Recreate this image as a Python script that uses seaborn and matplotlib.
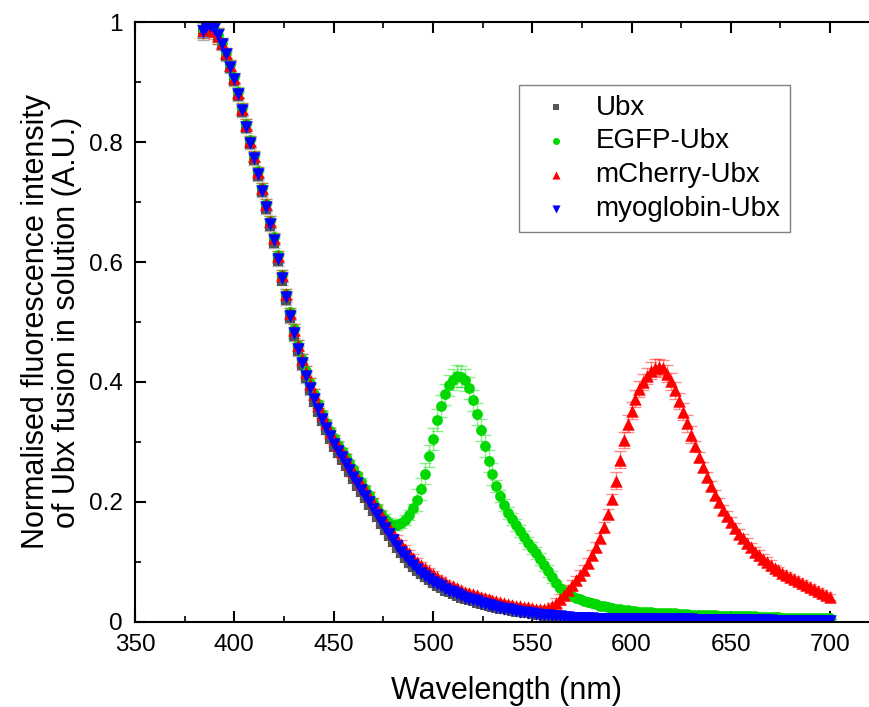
import matplotlib
matplotlib.use("Agg")
import matplotlib.pyplot as plt
import numpy as np
import pandas as pd
import seaborn as sns
from matplotlib.ticker import MultipleLocator, FixedLocator, FixedFormatter

# ---------------- data ----------------
wavelength = list(range(384, 702, 2))

ubx = [0.983, 0.990, 0.992, 0.987, 0.976, 0.962, 0.944, 0.923, 0.902, 0.877,
       0.850, 0.823, 0.796, 0.770, 0.743, 0.716, 0.688, 0.660, 0.632, 0.601,
       0.569, 0.537, 0.506, 0.477, 0.451, 0.428, 0.406, 0.386, 0.367, 0.350,
       0.334, 0.319, 0.305, 0.292, 0.281, 0.270, 0.259, 0.249, 0.238, 0.227,
       0.216, 0.206, 0.195, 0.184, 0.174, 0.163, 0.153, 0.143, 0.133, 0.123,
       0.114, 0.106, 0.098, 0.091, 0.085, 0.079, 0.074, 0.069, 0.064, 0.060,
       0.056, 0.052, 0.049, 0.046, 0.043, 0.040, 0.038, 0.036, 0.034, 0.032,
       0.030, 0.028, 0.026, 0.025, 0.023, 0.022, 0.021, 0.019, 0.018, 0.017,
       0.016, 0.015, 0.014, 0.013, 0.012, 0.011, 0.010, 0.010, 0.009, 0.008,
       0.008, 0.007, 0.007, 0.006, 0.006, 0.006, 0.005, 0.005, 0.005, 0.004,
       0.004, 0.004, 0.004, 0.004, 0.004, 0.004, 0.004, 0.004, 0.004, 0.003,
       0.003, 0.003, 0.003, 0.003, 0.003, 0.003, 0.003, 0.003, 0.003, 0.003,
       0.003, 0.003, 0.003, 0.003, 0.003, 0.003, 0.003, 0.003, 0.003, 0.002,
       0.002, 0.002, 0.002, 0.002, 0.002, 0.002, 0.002, 0.002, 0.002, 0.002,
       0.002, 0.002, 0.002, 0.002, 0.002, 0.002, 0.002, 0.002, 0.002, 0.002,
       0.002, 0.002, 0.002, 0.002, 0.002, 0.002, 0.002, 0.002, 0.002]

egfp_ubx = [0.986, 0.991, 0.994, 0.989, 0.979, 0.966, 0.949, 0.929, 0.908, 0.884,
            0.857, 0.830, 0.803, 0.777, 0.751, 0.724, 0.697, 0.669, 0.641, 0.611,
            0.579, 0.547, 0.516, 0.488, 0.462, 0.439, 0.418, 0.398, 0.380, 0.363,
            0.347, 0.332, 0.318, 0.306, 0.295, 0.284, 0.274, 0.264, 0.254, 0.244,
            0.233, 0.222, 0.211, 0.200, 0.189, 0.179, 0.171, 0.165, 0.161, 0.161,
            0.164, 0.170, 0.178, 0.189, 0.203, 0.221, 0.247, 0.276, 0.305, 0.336,
            0.360, 0.379, 0.394, 0.404, 0.410, 0.409, 0.403, 0.390, 0.369, 0.346,
            0.320, 0.293, 0.268, 0.246, 0.226, 0.209, 0.194, 0.181, 0.171, 0.161,
            0.152, 0.142, 0.132, 0.123, 0.114, 0.104, 0.094, 0.084, 0.074, 0.064,
            0.057, 0.051, 0.047, 0.043, 0.040, 0.038, 0.035, 0.033, 0.031, 0.029,
            0.027, 0.026, 0.024, 0.023, 0.022, 0.021, 0.020, 0.019, 0.018, 0.018,
            0.017, 0.017, 0.016, 0.016, 0.015, 0.015, 0.015, 0.014, 0.014, 0.014,
            0.013, 0.013, 0.013, 0.012, 0.012, 0.012, 0.011, 0.011, 0.011, 0.011,
            0.010, 0.010, 0.010, 0.010, 0.010, 0.009, 0.009, 0.009, 0.009, 0.009,
            0.008, 0.008, 0.008, 0.008, 0.008, 0.008, 0.007, 0.007, 0.007, 0.007,
            0.007, 0.007, 0.007, 0.007, 0.006, 0.006, 0.006, 0.006, 0.006]

mcherry_ubx = [0.987, 0.994, 0.992, 0.986, 0.977, 0.965, 0.948, 0.928, 0.907, 0.882,
               0.856, 0.829, 0.802, 0.776, 0.750, 0.723, 0.696, 0.668, 0.640, 0.610,
               0.578, 0.546, 0.515, 0.487, 0.461, 0.438, 0.417, 0.397, 0.379, 0.362,
               0.346, 0.331, 0.317, 0.305, 0.294, 0.283, 0.273, 0.263, 0.252, 0.242,
               0.231, 0.221, 0.210, 0.200, 0.189, 0.179, 0.168, 0.158, 0.148, 0.138,
               0.130, 0.122, 0.114, 0.107, 0.100, 0.094, 0.089, 0.084, 0.079, 0.074,
               0.070, 0.066, 0.062, 0.059, 0.056, 0.053, 0.050, 0.048, 0.046, 0.044,
               0.042, 0.040, 0.038, 0.036, 0.034, 0.033, 0.031, 0.030, 0.028, 0.027,
               0.026, 0.025, 0.024, 0.023, 0.022, 0.021, 0.021, 0.023, 0.027, 0.032,
               0.038, 0.045, 0.053, 0.061, 0.069, 0.078, 0.087, 0.098, 0.111, 0.125,
               0.140, 0.158, 0.180, 0.205, 0.235, 0.270, 0.303, 0.330, 0.352, 0.372,
               0.388, 0.400, 0.410, 0.419, 0.424, 0.425, 0.423, 0.414, 0.401, 0.386,
               0.368, 0.350, 0.331, 0.312, 0.293, 0.275, 0.258, 0.242, 0.227, 0.212,
               0.199, 0.187, 0.176, 0.166, 0.156, 0.147, 0.139, 0.131, 0.124, 0.117,
               0.111, 0.105, 0.100, 0.095, 0.090, 0.086, 0.082, 0.078, 0.075, 0.071,
               0.068, 0.064, 0.061, 0.058, 0.055, 0.051, 0.048, 0.044, 0.041]

myoglobin_ubx = [0.985, 0.992, 0.993, 0.988, 0.978, 0.964, 0.947, 0.926, 0.905, 0.880,
                 0.853, 0.826, 0.799, 0.773, 0.746, 0.719, 0.692, 0.664, 0.636, 0.605,
                 0.573, 0.541, 0.510, 0.481, 0.455, 0.432, 0.410, 0.390, 0.371, 0.354,
                 0.338, 0.323, 0.309, 0.296, 0.285, 0.274, 0.263, 0.253, 0.242, 0.231,
                 0.220, 0.210, 0.199, 0.188, 0.178, 0.167, 0.157, 0.146, 0.136, 0.126,
                 0.117, 0.109, 0.101, 0.094, 0.088, 0.082, 0.077, 0.072, 0.067, 0.063,
                 0.059, 0.055, 0.052, 0.049, 0.046, 0.043, 0.040, 0.038, 0.036, 0.034,
                 0.032, 0.030, 0.028, 0.026, 0.025, 0.023, 0.022, 0.021, 0.019, 0.018,
                 0.017, 0.016, 0.015, 0.014, 0.013, 0.012, 0.011, 0.011, 0.010, 0.009,
                 0.009, 0.008, 0.008, 0.007, 0.007, 0.007, 0.006, 0.006, 0.006, 0.005,
                 0.005, 0.005, 0.005, 0.005, 0.005, 0.004, 0.004, 0.004, 0.004, 0.004,
                 0.004, 0.004, 0.004, 0.004, 0.004, 0.004, 0.004, 0.004, 0.004, 0.004,
                 0.004, 0.004, 0.004, 0.004, 0.003, 0.003, 0.003, 0.003, 0.003, 0.003,
                 0.003, 0.003, 0.003, 0.003, 0.003, 0.003, 0.003, 0.003, 0.003, 0.003,
                 0.003, 0.003, 0.003, 0.003, 0.002, 0.002, 0.002, 0.002, 0.002, 0.002,
                 0.002, 0.002, 0.002, 0.002, 0.002, 0.002, 0.002, 0.002, 0.002]

# standard deviations (read from the error-bar caps)
err_ubx = [0.012] * 5 + [0.008] * 24 + [0.006] * 30 + [0.004] * 30 + [0.002] * 70
err_egfp = ([0.012] * 5 + [0.008] * 24 + [0.006] * 15 + [0.008] * 10 + [0.018] * 20
            + [0.010] * 15 + [0.004] * 20 + [0.002] * 50)
err_mcherry = ([0.014] * 5 + [0.009] * 24 + [0.006] * 30 + [0.004] * 30 + [0.008] * 15
               + [0.014] * 20 + [0.008] * 20 + [0.005] * 15)
err_myoglobin = [0.010] * 5 + [0.007] * 24 + [0.005] * 30 + [0.003] * 30 + [0.002] * 70

series_names = ["Ubx", "EGFP-Ubx", "mCherry-Ubx", "myoglobin-Ubx"]
x_ticks = [350, 400, 450, 500, 550, 600, 650, 700]
y_ticks = [0, 0.2, 0.4, 0.6, 0.8, 1]
y_tick_labels = ["0", "0.2", "0.4", "0.6", "0.8", "1"]

# ---------------- table ----------------
values = [ubx, egfp_ubx, mcherry_ubx, myoglobin_ubx]
errors = [err_ubx, err_egfp, err_mcherry, err_myoglobin]
frames = []
for name, v, e in zip(series_names, values, errors):
    frames.append(pd.DataFrame({"wavelength": wavelength, "intensity": v,
                                "err": e, "sample": name}))
df = pd.concat(frames, ignore_index=True)

# ---------------- style ----------------
sns.set_style("ticks")
plt.rcParams["font.family"] = ["Liberation Sans", "DejaVu Sans"]
plt.rcParams["text.color"] = "black"
plt.rcParams["axes.labelcolor"] = "black"
plt.rcParams["xtick.color"] = "black"
plt.rcParams["ytick.color"] = "black"

colors = {"Ubx": "#555555", "EGFP-Ubx": "#00d800",
          "mCherry-Ubx": "#ff0000", "myoglobin-Ubx": "#0000ff"}
markers = {"Ubx": "s", "EGFP-Ubx": "o", "mCherry-Ubx": "^", "myoglobin-Ubx": "v"}
msizes = {"Ubx": 45, "EGFP-Ubx": 60, "mCherry-Ubx": 80, "myoglobin-Ubx": 80}

fig = plt.figure(figsize=(8.7, 7.07), dpi=100)
# right edge of the frame lies just outside the picture, as in the reference
ax = fig.add_axes([135 / 870, (707 - 621.7) / 707, 743 / 870, 599.5 / 707])

for name in series_names:
    sub = df[df["sample"] == name]
    ax.errorbar(sub["wavelength"], sub["intensity"], yerr=sub["err"], fmt="none",
                ecolor=colors[name], alpha=0.45, elinewidth=1.0, capsize=4.6,
                capthick=1.0, zorder=1)

for name in series_names:
    sub = df[df["sample"] == name]
    sns.scatterplot(data=sub, x="wavelength", y="intensity", ax=ax,
                    color=colors[name], marker=markers[name], s=msizes[name],
                    linewidth=0, label=name, zorder=2)

ax.set_xlim(350, 724.1)
ax.set_ylim(0, 1)
ax.xaxis.set_major_locator(FixedLocator(x_ticks))
ax.xaxis.set_minor_locator(MultipleLocator(25))
ax.yaxis.set_major_locator(FixedLocator(y_ticks))
ax.yaxis.set_major_formatter(FixedFormatter(y_tick_labels))
ax.yaxis.set_minor_locator(MultipleLocator(0.1))

for key, sp in ax.spines.items():
    sp.set_visible(key != "right")
    sp.set_linewidth(1.5)
    sp.set_color("black")

ax.tick_params(which="major", direction="in", top=True, right=False,
               length=8, width=1.5, labelsize=17.5, pad=9, color="black",
               labelcolor="black")
ax.tick_params(which="minor", direction="in", top=True, right=False,
               length=4.5, width=1.2, color="black")

ax.set_xlabel("Wavelength (nm)", fontsize=22, labelpad=14.5, color="black")
ax.set_ylabel("Normalised fluorescence intensity\nof Ubx fusion in solution (A.U.)",
              fontsize=22, labelpad=5, linespacing=1.05, color="black")

handles, labels = ax.get_legend_handles_labels()
leg = ax.legend(handles, labels, loc="upper left",
                bbox_to_anchor=(519 / 870, 1 - 85 / 707),
                bbox_transform=fig.transFigure, borderaxespad=0,
                fontsize=20, frameon=True, fancybox=False, framealpha=1,
                edgecolor="#808080", handletextpad=0.4, labelspacing=0.28,
                borderpad=0.35, handlelength=2.0, markerscale=0.65)
leg.get_frame().set_linewidth(1.0)

fig.savefig("out.png", dpi=100)
